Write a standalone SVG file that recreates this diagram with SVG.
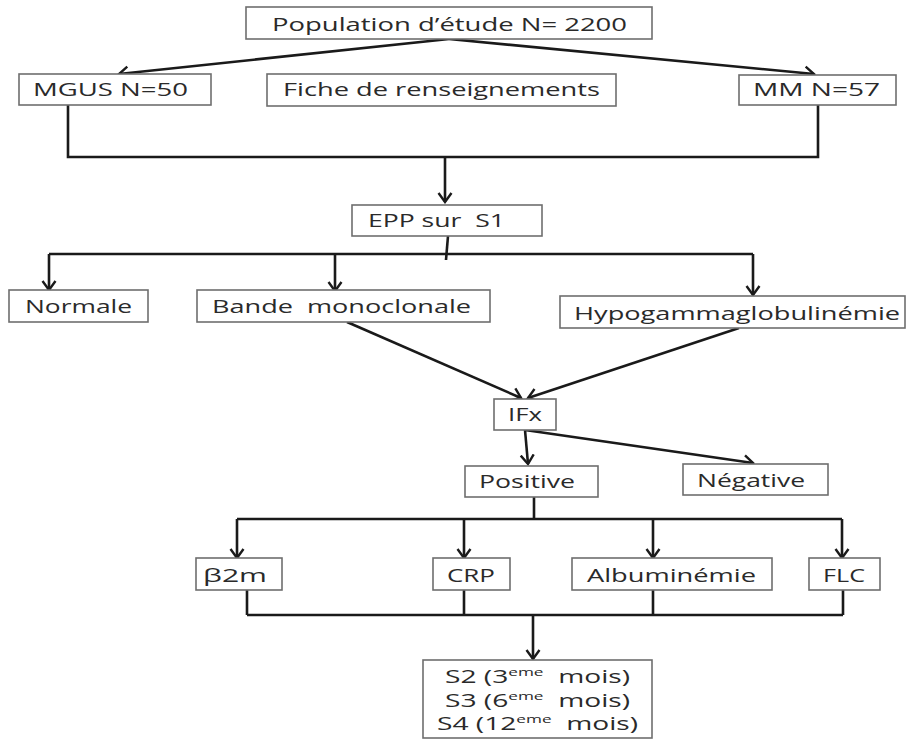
<svg xmlns="http://www.w3.org/2000/svg" width="909" height="740" viewBox="0 0 909 740">
<defs>
<marker id="arr" viewBox="-10 -8 12 16" refX="0" refY="0" markerWidth="12" markerHeight="16" markerUnits="userSpaceOnUse" orient="auto">
<path d="M-9,-6.5 L0,0 L-9,6.5" fill="none" stroke="#1a1a1a" stroke-width="2.4" stroke-linejoin="miter"/>
</marker>
</defs>
<style>
.box{fill:#fff;stroke:#6e6e6e;stroke-width:1.6}
.t{font-family:"Open Sans","Liberation Sans",sans-serif;font-size:18px;fill:#2a2a2a}
.sup{font-size:11px}
.c{fill:none;stroke:#1a1a1a;stroke-width:2.6}
.a{marker-end:url(#arr)}
</style>
<rect width="909" height="740" fill="#fff"/>
<g id="connectors">
<path class="c a" d="M449,39 L119,74"/>
<path class="c a" d="M449,39 L814,74"/>
<path class="c" d="M68,105 V157 H818 V105"/>
<path class="c a" d="M445,157 V202"/>
<path class="c" d="M448,236 L446,260"/>
<path class="c" d="M49,254 H753"/>
<path class="c a" d="M49,254 V290"/>
<path class="c a" d="M335,254 V291"/>
<path class="c a" d="M753,254 V295"/>
<path class="c a" d="M347,322 L521,398"/>
<path class="c a" d="M739,328 L528,398"/>
<path class="c a" d="M525,430 L528,464"/>
<path class="c a" d="M525,430 L753,463"/>
<path class="c" d="M534,497 V519"/>
<path class="c" d="M237,519 H842"/>
<path class="c a" d="M237,519 V558"/>
<path class="c a" d="M464,519 V558"/>
<path class="c a" d="M653,519 V558"/>
<path class="c a" d="M842,519 V558"/>
<path class="c" d="M247,590 V615 M464,590 V615 M653,590 V615 M843,590 V615"/>
<path class="c" d="M247,615 H843"/>
<path class="c a" d="M533,615 V659"/>
</g>
<g id="population">
<rect class="box" x="246" y="7" width="406" height="32"/>
<text class="t" x="272" y="31" textLength="355" lengthAdjust="spacingAndGlyphs">Population d’étude N= 2200</text>
</g>
<g id="mgus">
<rect class="box" x="19" y="74" width="192" height="31"/>
<text class="t" x="33" y="96" textLength="155" lengthAdjust="spacingAndGlyphs">MGUS N=50</text>
</g>
<g id="fiche">
<rect class="box" x="267" y="74" width="349" height="32"/>
<text class="t" x="283" y="96" textLength="317" lengthAdjust="spacingAndGlyphs">Fiche de renseignements</text>
</g>
<g id="mm">
<rect class="box" x="739" y="75" width="157" height="30"/>
<text class="t" x="753" y="96" textLength="127" lengthAdjust="spacingAndGlyphs">MM N=57</text>
</g>
<g id="epp">
<rect class="box" x="352" y="205" width="190" height="31"/>
<text class="t" x="368" y="227" textLength="137" lengthAdjust="spacingAndGlyphs" xml:space="preserve">EPP sur  S1</text>
</g>
<g id="normale">
<rect class="box" x="9" y="290" width="139" height="32"/>
<text class="t" x="25" y="313" textLength="107" lengthAdjust="spacingAndGlyphs">Normale</text>
</g>
<g id="bande">
<rect class="box" x="197" y="290" width="293" height="32"/>
<text class="t" x="212" y="313" textLength="259" lengthAdjust="spacingAndGlyphs" xml:space="preserve">Bande  monoclonale</text>
</g>
<g id="hypo">
<rect class="box" x="560" y="296" width="345" height="32"/>
<text class="t" x="574" y="320" textLength="326" lengthAdjust="spacingAndGlyphs">Hypogammaglobulinémie</text>
</g>
<g id="ifx">
<rect class="box" x="494" y="399" width="62" height="31"/>
<text class="t" x="508" y="421" textLength="34" lengthAdjust="spacingAndGlyphs">IFx</text>
</g>
<g id="positive">
<rect class="box" x="465" y="466" width="133" height="31"/>
<text class="t" x="479" y="488" textLength="96" lengthAdjust="spacingAndGlyphs">Positive</text>
</g>
<g id="negative">
<rect class="box" x="683" y="464" width="145" height="31"/>
<text class="t" x="697" y="487" textLength="108" lengthAdjust="spacingAndGlyphs">Négative</text>
</g>
<g id="b2m">
<rect class="box" x="196" y="558" width="86" height="32"/>
<text class="t" x="203" y="582" textLength="64" lengthAdjust="spacingAndGlyphs">β2m</text>
</g>
<g id="crp">
<rect class="box" x="433" y="558" width="77" height="32"/>
<text class="t" x="447" y="582" textLength="48" lengthAdjust="spacingAndGlyphs">CRP</text>
</g>
<g id="albu">
<rect class="box" x="572" y="558" width="200" height="32"/>
<text class="t" x="587" y="582" textLength="169" lengthAdjust="spacingAndGlyphs">Albuminémie</text>
</g>
<g id="flc">
<rect class="box" x="809" y="558" width="71" height="32"/>
<text class="t" x="823" y="582" textLength="42" lengthAdjust="spacingAndGlyphs">FLC</text>
</g>
<g id="suivi">
<rect class="box" x="423" y="660" width="229" height="78"/>
<text class="t" x="445" y="683" textLength="185" lengthAdjust="spacingAndGlyphs" xml:space="preserve">S2 (3<tspan class="sup" dy="-7">eme</tspan><tspan dy="7">  mois)</tspan></text>
<text class="t" x="445" y="707" textLength="185" lengthAdjust="spacingAndGlyphs" xml:space="preserve">S3 (6<tspan class="sup" dy="-7">eme</tspan><tspan dy="7">  mois)</tspan></text>
<text class="t" x="437" y="730" textLength="201" lengthAdjust="spacingAndGlyphs" xml:space="preserve">S4 (12<tspan class="sup" dy="-7">eme</tspan><tspan dy="7">  mois)</tspan></text>
</g>
</svg>
